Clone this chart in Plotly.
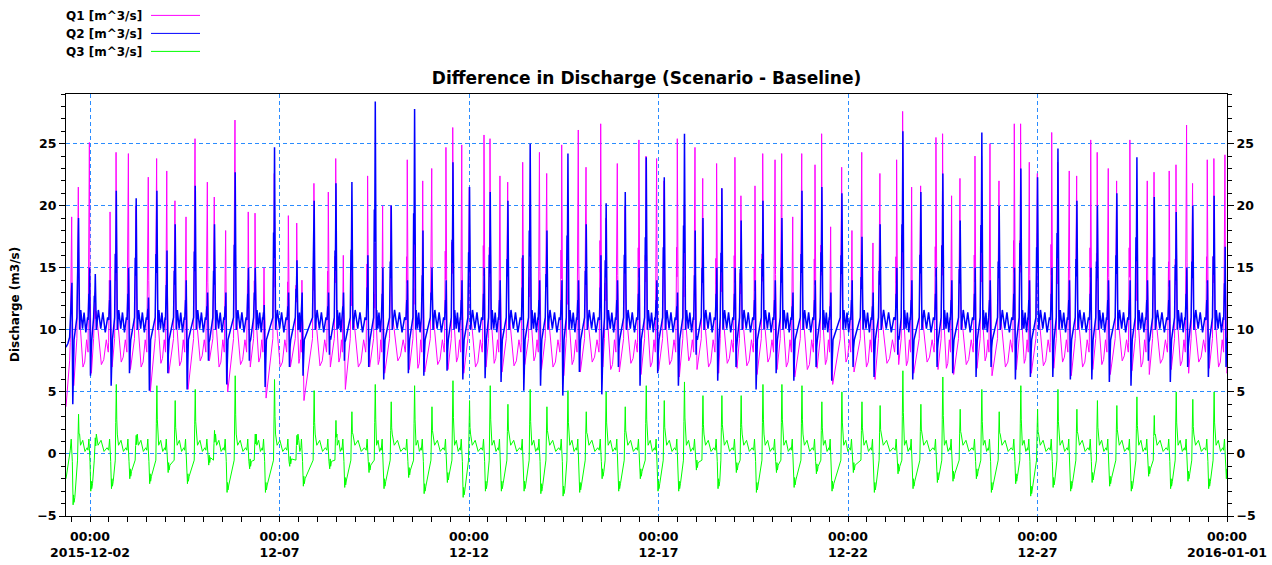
import pandas as pd
import plotly.graph_objects as go

# ---------------- data ----------------
# Each tidal cycle: time of first spike and of second spike (hours after 2015-12-02 00:00)
t_first = [-11.6, -0.4, 12.7, 24.3, 36.9, 48.6, 60.8, 74.3, 85.9, 100.2, 110.2, 125.6, 134.2, 150.9, 160.4,
           175.8, 185.3, 200.9, 210.7, 225.4, 235.4, 249.5, 259.6, 274.0, 284.6, 298.7, 309.2, 323.4, 333.9,
           347.6, 358.8, 371.9, 383.1, 396.8, 408.4, 421.1, 433.8, 445.0, 459.1, 469.0, 482.5, 495.8, 510.8,
           520.3, 535.7, 545.6, 560.4, 569.9, 585.3, 594.8, 609.0, 620.1, 633.7, 644.8, 658.5, 669.5, 683.4,
           694.4, 707.5, 718.7]
t_second = [-7.4, 3.2, 16.5, 29.1, 42.2, 53.8, 66.5, 78.7, 91.8, 104.5, 116.7, 130.9, 141.8, 155.6, 165.7,
            180.5, 190.6, 205.4, 216.4, 229.7, 240.2, 253.3, 264.5, 278.6, 289.2, 302.5, 314.1, 326.7, 338.8,
            352.1, 363.5, 376.3, 388.0, 400.0, 412.2, 426.0, 438.0, 450.7, 463.3, 476.0, 488.7, 500.2, 514.6,
            526.0, 539.9, 550.9, 564.6, 575.6, 589.3, 599.9, 612.8, 624.8, 637.8, 650.1, 662.8, 673.8, 687.7,
            698.2, 711.7, 723.0]

# Q1 [m^3/s]
q1_peak_a = [19.1, 25.1, 19.5, 24.2, 22.3, 22.8, 19.1, 21.9, 18.0, 19.5, 15.0, 19.2, 14.0, 21.1, 16.0, 22.4,
             20.0, 23.7, 22.0, 24.7, 24.9, 25.7, 22.4, 23.5, 24.3, 24.9, 26.1, 26.6, 23.4, 25.3, 23.8, 25.4,
             24.7, 23.4, 23.9, 21.6, 23.7, 19.1, 23.3, 18.3, 18.0, 17.0, 23.7, 21.5, 25.5, 20.8, 24.0, 25.0,
             26.6, 23.5, 25.9, 22.8, 25.3, 23.0, 25.3, 22.0, 22.8, 26.5, 23.7, 24.1]
q1_peak_b = [21.5, 13.0, 24.3, 20.0, 23.8, 20.4, 25.4, 20.7, 26.9, 19.4, 22.6, 18.6, 21.8, 23.8, 17.6, 17.0,
             20.0, 18.0, 23.0, 26.3, 21.5, 25.4, 21.9, 20.0, 22.6, 18.0, 23.1, 19.0, 20.0, 24.0, 22.0, 20.0,
             22.2, 21.4, 20.8, 24.2, 24.2, 24.2, 25.8, 23.1, 24.3, 22.6, 27.6, 21.6, 25.8, 22.2, 24.0, 22.0,
             26.6, 22.6, 23.5, 22.4, 24.3, 22.0, 19.0, 22.7, 23.3, 21.8, 23.8, 20.0]
q1_low = [5.5, 6.5, 7.0, 6.8, 5.0, 6.5, 5.2, 7.5, 5.0, 7.0, 4.5, 7.0, 4.3, 7.0, 5.2, 7.0, 6.5, 6.8, 6.6, 6.8,
          6.5, 7.0, 6.6, 7.2, 6.8, 6.3, 6.6, 7.0, 6.6, 6.4, 6.8, 6.2, 6.8, 6.5, 6.9, 6.4, 6.8, 6.2, 6.9, 5.6,
          6.6, 6.0, 7.2, 6.5, 6.8, 6.4, 6.9, 6.3, 6.8, 6.5, 6.9, 6.3, 6.8, 6.4, 6.7, 6.4, 6.8, 6.5, 6.9, 6.5]
q1_trough = [7.0, 7.2, 7.4, 7.0, 7.3, 7.1, 7.5, 7.0, 7.2, 7.4, 7.0, 7.3, 7.1, 7.4, 7.0, 7.2, 7.5, 6.9, 7.2,
             7.4, 7.0, 7.3, 7.1, 7.5, 7.0, 7.2, 7.4, 6.8, 7.3, 7.0, 7.2, 7.5, 7.0, 7.3, 7.1, 7.4, 7.0, 6.8,
             7.2, 7.4, 7.0, 7.3, 7.1, 7.4, 6.9, 7.2, 7.5, 7.0, 7.3, 7.1, 7.4, 7.0, 7.2, 7.5, 7.0, 7.3, 7.1,
             7.4, 7.0, 7.2]

# Q2 [m^3/s]
q2_peak_a = [13.8, 15.0, 14.0, 15.0, 12.6, 16.4, 14.0, 13.0, 13.0, 15.0, 12.0, 13.0, 13.0, 13.0, 13.0, 16.0,
             15.0, 14.0, 18.0, 14.0, 14.0, 15.0, 14.0, 16.0, 14.0, 14.0, 14.0, 16.0, 14.0, 15.0, 14.0, 13.0,
             18.0, 15.0, 15.0, 14.0, 14.0, 13.0, 14.0, 13.0, 14.0, 13.0, 15.0, 14.0, 15.0, 14.0, 15.0, 14.0,
             15.0, 14.0, 15.0, 14.0, 15.0, 14.0, 14.0, 14.0, 14.0, 15.0, 14.0, 16.7]
q2_peak_b = [19.0, 14.5, 21.2, 20.6, 21.2, 18.5, 21.6, 18.5, 22.7, 15.0, 24.7, 15.6, 20.4, 21.8, 21.9, 28.4,
             20.0, 27.8, 15.0, 23.5, 21.5, 21.1, 20.4, 25.0, 18.0, 24.2, 18.5, 20.2, 21.1, 23.9, 22.3, 25.8,
             19.0, 21.4, 18.8, 20.4, 19.0, 21.2, 21.5, 21.0, 17.5, 18.5, 26.0, 21.1, 22.6, 18.8, 25.9, 20.0,
             23.0, 22.3, 24.6, 20.4, 20.0, 21.0, 23.9, 20.7, 19.5, 20.0, 20.8, 18.0]
q2_dip = [4.0, 6.3, 5.5, 6.5, 5.1, 6.5, 5.2, 7.5, 5.6, 7.5, 5.4, 7.0, 6.3, 8.0, 7.5, 7.0, 6.0, 6.5, 6.3, 6.7,
          6.0, 6.1, 5.8, 5.1, 5.5, 4.7, 6.6, 4.8, 7.0, 5.5, 6.5, 5.5, 8.0, 5.9, 7.0, 5.2, 6.5, 5.9, 7.0, 5.9,
          7.0, 6.2, 8.0, 6.0, 7.0, 6.5, 6.2, 7.0, 6.0, 6.2, 6.2, 6.0, 6.0, 5.8, 5.5, 7.5, 5.8, 7.0, 6.2, 7.0]

# Q3 [m^3/s]
q3_spike = [3.2, 1.3, 5.6, 1.5, 5.5, 4.3, 5.2, 1.9, 6.3, 1.6, 6.0, 1.5, 5.1, 2.7, 3.4, 5.6, 4.2, 5.5, 3.8,
            5.9, 4.3, 5.5, 4.0, 5.2, 3.8, 5.1, 3.4, 5.0, 3.8, 5.5, 4.3, 5.8, 4.7, 4.7, 4.7, 5.6, 5.6, 5.5,
            4.2, 5.0, 4.2, 3.9, 6.7, 4.0, 6.2, 3.6, 5.2, 3.4, 5.5, 3.6, 5.2, 3.6, 4.3, 3.9, 4.6, 3.1, 5.0,
            4.4, 5.0, 3.5]
q3_dip = [-4.1, -3.0, -2.8, -2.0, -2.4, -1.5, -2.4, -0.9, -3.1, -1.2, -3.1, -1.0, -2.6, -1.2, -2.7, -1.5,
          -2.8, -1.9, -3.2, -2.3, -3.5, -3.0, -3.0, -3.0, -3.2, -3.4, -3.1, -2.0, -3.0, -2.0, -3.0, -3.0,
          -1.3, -2.8, -1.5, -3.1, -1.5, -2.7, -1.6, -3.0, -1.5, -3.1, -1.6, -2.8, -2.3, -2.2, -2.0, -3.1,
          -2.4, -3.4, -2.7, -3.0, -2.3, -2.6, -3.0, -1.8, -2.8, -2.2, -2.8, -2.0]

# values at the very start of the record (hours, value)
start_hours = [-15.2, -14.0, -12.9]
q1_start = [3.8, 5.6, 7.5]
q2_start = [8.6, 8.9, 9.4]
q3_start = [-2.0, -1.0, 0.2]

# axis labels
tick_dates = ["2015-12-02", "2015-12-07", "2015-12-12", "2015-12-17", "2015-12-22", "2015-12-27", "2016-01-01"]
tick_text = ["00:00<br>2015-12-02", "00:00<br>12-07", "00:00<br>12-12", "00:00<br>12-17",
             "00:00<br>12-22", "00:00<br>12-27", "00:00<br>2016-01-01"]
series_names = ["Q1 [m^3/s]", "Q2 [m^3/s]", "Q3 [m^3/s]"]
series_colors = ["#FF00FF", "#0000FF", "#00FF00"]

# ---------------- build the line vertices per cycle ----------------
n = min(len(t_first), len(t_second), len(q1_peak_a), len(q1_peak_b), len(q1_low), len(q1_trough),
        len(q2_peak_a), len(q2_peak_b), len(q2_dip), len(q3_spike), len(q3_dip))


def add(ts, vs, t, v):
    if ts and t <= ts[-1] + 0.05:
        return
    ts.append(t)
    vs.append(v)


def shoulder(base_level, peak, frac):
    return base_level + frac * (peak - base_level)


t1, v1 = list(start_hours), list(q1_start)
t2, v2 = list(start_hours), list(q2_start)
t3, v3 = list(start_hours), list(q3_start)

for i in range(n):
    ta, tb = t_first[i], t_second[i]
    tn = t_first[i + 1] if i + 1 < n else tb + 9.0
    gap = tn - tb
    pa, pb = q1_peak_a[i], q1_peak_b[i]
    # Q1
    add(t1, v1, ta - 0.9, 9.0)
    add(t1, v1, ta - 0.45, shoulder(9.5, pa, 0.45))
    add(t1, v1, ta - 0.25, shoulder(9.5, pa, 0.3))
    add(t1, v1, ta, pa)
    add(t1, v1, ta + 0.3, shoulder(9.5, pa, 0.35))
    add(t1, v1, ta + 0.6, 10.5)
    add(t1, v1, ta + 1.3, q1_low[i])
    add(t1, v1, tb - 0.9, 9.3)
    add(t1, v1, tb - 0.45, shoulder(9.5, pb, 0.45))
    add(t1, v1, tb - 0.25, shoulder(9.5, pb, 0.3))
    add(t1, v1, tb, pb)
    add(t1, v1, tb + 0.3, shoulder(9.5, pb, 0.4))
    add(t1, v1, tb + 0.6, 11.5)
    add(t1, v1, tb + 0.20 * gap, 10.0)
    add(t1, v1, tb + 0.42 * gap, q1_trough[i])
    add(t1, v1, tb + 0.58 * gap, q1_trough[i] + 0.4)
    add(t1, v1, tb + 0.75 * gap, 9.2)
    add(t1, v1, tb + 0.88 * gap, 8.2)
    # Q2
    qa, qb = q2_peak_a[i], q2_peak_b[i]
    add(t2, v2, ta - 0.8, 10.8)
    add(t2, v2, ta - 0.3, shoulder(10.8, qa, 0.5))
    add(t2, v2, ta - 0.1, shoulder(10.8, qa, 0.35))
    add(t2, v2, ta + 0.15, qa)
    add(t2, v2, ta + 0.7, q2_dip[i])
    add(t2, v2, ta + 1.0, q2_dip[i] + 1.5)
    add(t2, v2, ta + 1.5, 9.2)
    add(t2, v2, tb - 0.9, 11.0)
    add(t2, v2, tb - 0.45, shoulder(11.0, qb, 0.5))
    add(t2, v2, tb - 0.2, shoulder(11.0, qb, 0.35))
    add(t2, v2, tb + 0.15, qb)
    add(t2, v2, tb + 0.45, shoulder(11.0, qb, 0.45))
    add(t2, v2, tb + 0.8, 10.0)
    add(t2, v2, tb + 0.22 * gap, 11.6)
    add(t2, v2, tb + 0.38 * gap, 10.1)
    add(t2, v2, tb + 0.52 * gap, 11.4)
    add(t2, v2, tb + 0.68 * gap, 9.8)
    add(t2, v2, tb + 0.84 * gap, 11.0)
    # Q3
    sg, dg = q3_spike[i], q3_dip[i]
    add(t3, v3, ta - 0.9, 0.3)
    add(t3, v3, ta - 0.3, 1.2)
    add(t3, v3, ta + 0.4, -0.6)
    add(t3, v3, ta + 0.9, dg)
    add(t3, v3, ta + 1.2, dg + 0.8)
    add(t3, v3, ta + 1.5, dg + 0.2)
    add(t3, v3, ta + 2.0, dg + 0.6)
    add(t3, v3, tb - 0.5, -0.5)
    add(t3, v3, tb - 0.2, 0.45 * sg)
    add(t3, v3, tb + 0.15, sg)
    add(t3, v3, tb + 0.45, 0.5 * sg)
    add(t3, v3, tb + 0.8, 1.6)
    add(t3, v3, tb + 0.2 * gap, 0.7)
    add(t3, v3, tb + 0.4 * gap, 1.1)
    add(t3, v3, tb + 0.6 * gap, 0.2)
    add(t3, v3, tb + 0.8 * gap, 0.5)

base = pd.Timestamp("2015-12-02 00:00")


def to_time(hours):
    return base + pd.to_timedelta(pd.Series(hours), unit="h")


x_start = base + pd.to_timedelta(start_hours[0], unit="h")
x_end = pd.Timestamp("2016-01-01 00:00")

FONT = "DejaVu Sans"

fig = go.Figure()
widths = [1, 1.5, 1]
for (tt, vv), name, col, w in zip([(t1, v1), (t2, v2), (t3, v3)], series_names, series_colors, widths):
    fig.add_trace(go.Scatter(x=to_time(tt), y=vv, mode="lines", name=name,
                             line=dict(color=col, width=w), showlegend=False))
# dummy trace to activate the right-hand axis
fig.add_trace(go.Scatter(x=[x_start], y=[None], yaxis="y2", showlegend=False, hoverinfo="skip"))

grid_col = "#2A8CFF"
fig.update_layout(
    width=1272, height=565,
    margin=dict(l=66, r=45, t=94, b=49, autoexpand=False),
    paper_bgcolor="white", plot_bgcolor="white",
    showlegend=False,
    font=dict(family=FONT, size=12.5, color="black"),
    title=dict(text="<b>Difference in Discharge (Scenario - Baseline)</b>", x=0.5, xref="paper",
               xanchor="center", y=1 - 78 / 565, yref="container", yanchor="middle", automargin=False,
               font=dict(family=FONT, size=17, color="black")),
    xaxis=dict(type="date", range=[x_start, x_end], tickmode="array", tickvals=tick_dates, ticktext=tick_text,
               automargin=False,
               ticks="outside", ticklen=5, tickcolor="black", tickwidth=1,
               tickfont=dict(family=FONT, size=12.5, color="black", weight="bold"),
               ticklabelstandoff=4,
               showline=True, linecolor="black", linewidth=1, mirror=True,
               showgrid=True, gridcolor=grid_col, griddash="4px,3px", gridwidth=1, zeroline=False,
               minor=dict(dtick=43200000, tick0="2015-12-02", ticks="outside", ticklen=5,
                          tickcolor="black", showgrid=False)),
    yaxis=dict(range=[-5, 29], tickmode="linear", tick0=0, dtick=5, automargin=False,
               ticks="outside", ticklen=6, tickcolor="black",
               tickfont=dict(family=FONT, size=12.5, color="black", weight="bold"),
               showline=True, linecolor="black", linewidth=1, mirror=True,
               showgrid=True, gridcolor=grid_col, griddash="4px,3px", gridwidth=1, zeroline=False,
               minor=dict(dtick=1, tick0=0, ticks="outside", ticklen=4, tickcolor="black", showgrid=False)),
    yaxis2=dict(range=[-5, 29], overlaying="y", side="right", tickmode="linear", tick0=0, dtick=5,
                automargin=False,
                ticks="outside", ticklen=6, tickcolor="black",
                tickfont=dict(family=FONT, size=12.5, color="black", weight="bold"),
                showgrid=False, zeroline=False, showline=False,
                minor=dict(dtick=1, tick0=0, ticks="outside", ticklen=4, tickcolor="black", showgrid=False)),
)

# y-axis title
fig.add_annotation(text="<b>Discharge (m3/s)</b>", textangle=-90, xref="paper", yref="paper",
                   x=(15 - 66) / 1161, y=0.5, xanchor="center", yanchor="middle", showarrow=False,
                   font=dict(family=FONT, size=12, color="black"))

# legend (text, then line sample to the right)
row_px = [16.0, 34.0, 52.0]
for name, col, py in zip(series_names, series_colors, row_px):
    yp = (516 - py) / 422
    fig.add_annotation(text="<b>" + name + "</b>", xref="paper", yref="paper", x=(64 - 66) / 1161, y=yp,
                       xanchor="left", yanchor="middle", showarrow=False,
                       font=dict(family=FONT, size=12, color="black"))
    fig.add_shape(type="line", xref="paper", yref="paper", x0=(151 - 66) / 1161, x1=(200 - 66) / 1161,
                  y0=yp + 0.6 / 422, y1=yp + 0.6 / 422, line=dict(color=col, width=1))

fig.write_html("out.html", config={"displayModeBar": False},
               post_script="document.body.style.margin='0px';document.body.style.overflow='hidden';")
